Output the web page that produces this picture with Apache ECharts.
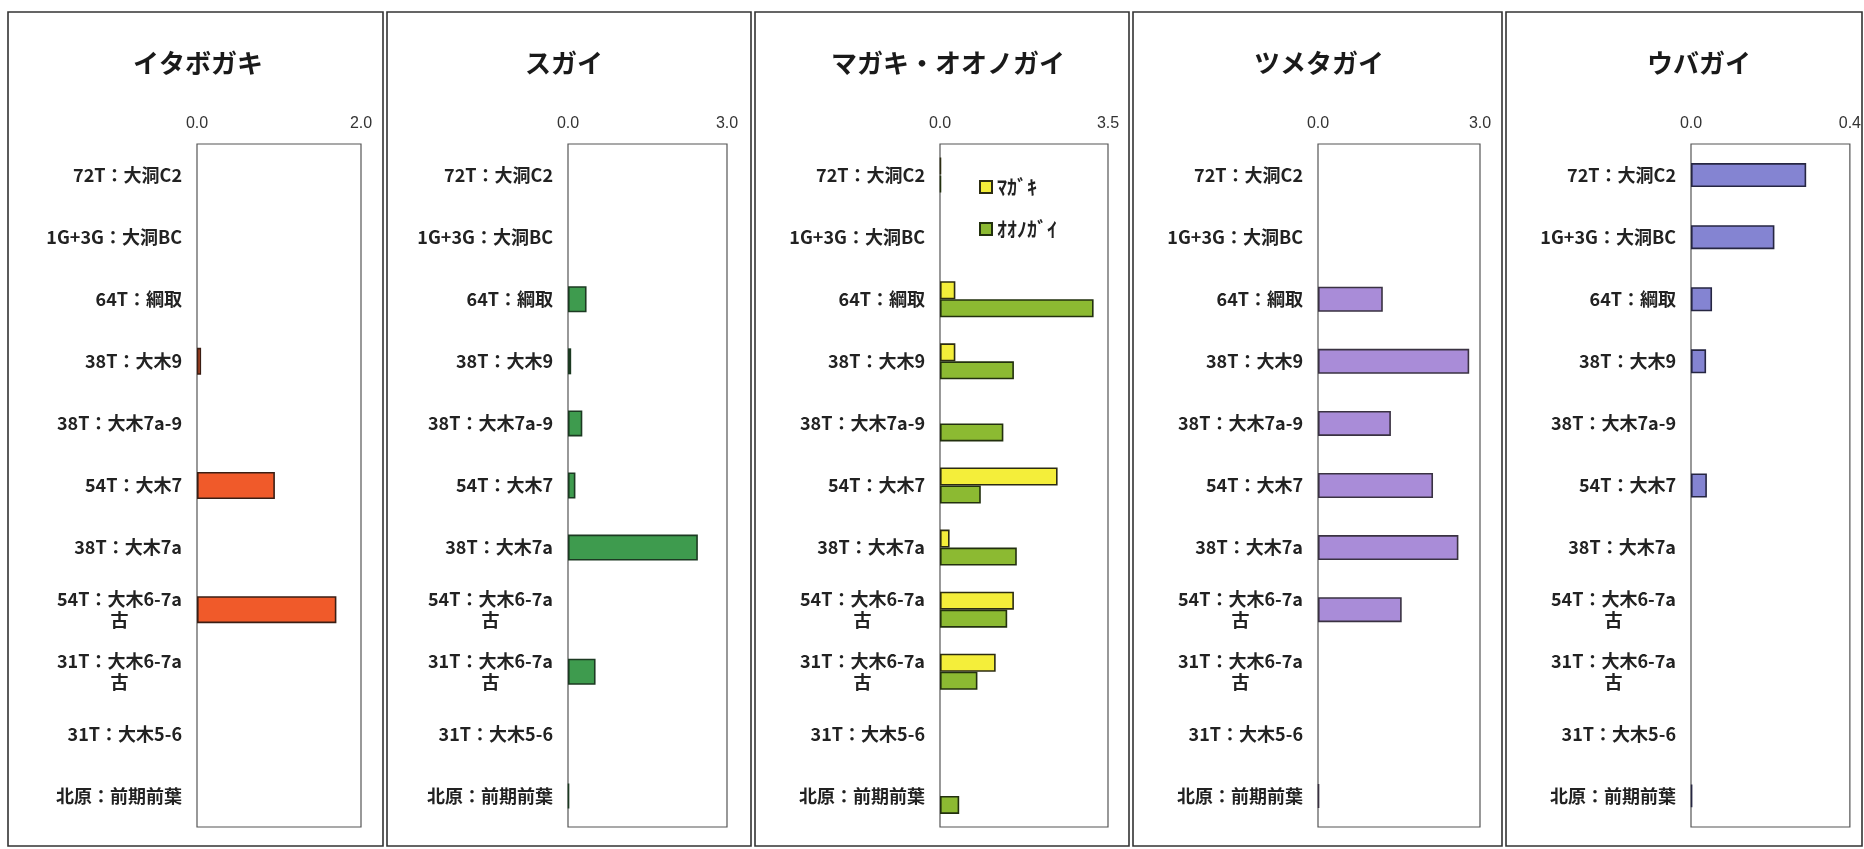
<!DOCTYPE html>
<html>
<head>
<meta charset="utf-8">
<script src="https://cdn.jsdelivr.net/npm/echarts@6/dist/echarts.min.js"></script>
<style>
  html, body { margin: 0; padding: 0; background: #ffffff; }
  #chart { width: 1864px; height: 849px; }
</style>
</head>
<body>
<div id="chart"></div>
<script>
// Sites / layers (top to bottom)
const categories = [
  '72T：大洞C2',
  '1G+3G：大洞BC',
  '64T：綱取',
  '38T：大木9',
  '38T：大木7a-9',
  '54T：大木7',
  '38T：大木7a',
  '54T：大木6-7a\n古',
  '31T：大木6-7a\n古',
  '31T：大木5-6',
  '北原：前期前葉'
];

// Shell species values per layer (null = not present)
const itabogakiValues = [null, null, null, 0.05, null, 0.95, null, 1.70, null, null, null];
const sugaiValues     = [null, null, 0.35, 0.06, 0.27, 0.14, 2.45, null, 0.52, null, 0.02];
const magakiValues    = [0.02, null, 0.32, 0.32, null, 2.45, 0.20, 1.54, 1.16, null, null];
const oonogaiValues   = [0.02, null, 3.20, 1.54, 1.32, 0.85, 1.60, 1.40, 0.78, null, 0.40];
const tsumetaValues   = [null, null, 1.20, 2.80, 1.35, 2.13, 2.60, 1.55, null, null, 0.02];
const ubagaiValues    = [0.29, 0.21, 0.053, 0.038, null, 0.04, null, null, null, null, 0.003];

// Panel titles, axis maxima and series names
const panelTitles = ['イタボガキ', 'スガイ', 'マガキ・オオノガイ', 'ツメタガイ', 'ウバガイ'];
const axisMax = [2.0, 3.0, 3.5, 3.0, 0.4];
const magakiName = 'ﾏｶﾞｷ';
const oonogaiName = 'ｵｵﾉｶﾞｲ';

// Layout and styling of each panel
const panels = [
  { frame: [8, 383],   gridLeft: 197,  gridWidth: 164, titleX: 193,
    series: [{ data: itabogakiValues, color: '#F05A2A', border: '#3a1e14', barWidth: 27 }] },
  { frame: [387, 751], gridLeft: 568,  gridWidth: 159, titleX: 559,
    series: [{ data: sugaiValues, color: '#3E9B4E', border: '#1c3a22', barWidth: 26 }] },
  { frame: [755, 1129], gridLeft: 940, gridWidth: 168, titleX: 943,
    series: [
      { name: magakiName, data: magakiValues, color: '#F4EE3A', border: '#2c2c12', barWidth: 18 },
      { name: oonogaiName, data: oonogaiValues, color: '#8CBA32', border: '#22300e', barWidth: 18 }
    ] },
  { frame: [1133, 1502], gridLeft: 1318, gridWidth: 162, titleX: 1314,
    series: [{ data: tsumetaValues, color: '#A98CD8', border: '#3a3242', barWidth: 25 }] },
  { frame: [1506, 1862], gridLeft: 1691, gridWidth: 165, titleX: 1694,
    series: [{ data: ubagaiValues, color: '#8484D2', border: '#262642', barWidth: 24 }] }
];

const GRID_TOP = 144;
const GRID_HEIGHT = 683;
const JP_FONT = "'Noto Sans CJK JP', 'Noto Sans', sans-serif";

const labelRich = {
  a: { align: 'right', fontSize: 18, fontWeight: 'bold', fontFamily: JP_FONT, color: '#222', lineHeight: 21 },
  c: { align: 'center', fontSize: 18, fontWeight: 'bold', fontFamily: JP_FONT, color: '#222', lineHeight: 21 }
};

function categoryFormatter(value) {
  const lines = value.split('\n');
  if (lines.length === 1) return '{a|' + value + '}';
  return '{a|' + lines[0] + '}\n{c|' + lines[1] + '}';
}

const option = {
  backgroundColor: '#ffffff',
  animation: false,
  title: [],
  grid: [],
  xAxis: [],
  yAxis: [],
  series: [],
  legend: {
    data: [magakiName, oonogaiName],
    orient: 'vertical',
    left: 974,
    top: 171,
    itemWidth: 12,
    itemHeight: 12,
    itemGap: 20,
    icon: 'rect',
    textStyle: { fontSize: 20, fontWeight: 'bold', fontFamily: JP_FONT, color: '#222', lineHeight: 22 }
  },
  graphic: []
};

panels.forEach((p, i) => {
  // Panel frame
  option.graphic.push({
    type: 'rect',
    shape: { x: p.frame[0], y: 12, width: p.frame[1] - p.frame[0], height: 834 },
    style: { fill: 'none', stroke: '#333', lineWidth: 1.6 },
    silent: true,
    z: 0
  });

  option.title.push({
    text: panelTitles[i],
    left: p.titleX,
    top: 45,
    textAlign: 'center',
    textStyle: { fontSize: 26, fontWeight: 'bold', fontFamily: JP_FONT, color: '#1a1a1a' }
  });

  option.grid.push({
    left: p.gridLeft,
    top: GRID_TOP,
    width: p.gridWidth,
    height: GRID_HEIGHT,
    show: true,
    borderColor: '#555',
    borderWidth: 1.2,
    backgroundColor: '#ffffff',
    containLabel: false
  });

  option.xAxis.push({
    type: 'value',
    gridIndex: i,
    position: 'top',
    min: 0,
    max: axisMax[i],
    interval: axisMax[i],
    axisLine: { show: false },
    axisTick: { show: false },
    splitLine: { show: false },
    axisLabel: {
      margin: 12,
      fontSize: 16,
      fontFamily: "'Liberation Sans', Arial, sans-serif",
      color: '#333',
      formatter: v => v.toFixed(1)
    }
  });

  option.yAxis.push({
    type: 'category',
    gridIndex: i,
    data: categories,
    inverse: true,
    axisLine: { show: false },
    axisTick: { show: false },
    splitLine: { show: false },
    axisLabel: {
      margin: 15,
      interval: 0,
      formatter: categoryFormatter,
      rich: labelRich,
      fontSize: 18,
      fontWeight: 'bold',
      fontFamily: JP_FONT,
      color: '#222',
      lineHeight: 21
    }
  });

  p.series.forEach(s => {
    option.series.push({
      type: 'bar',
      name: s.name,
      xAxisIndex: i,
      yAxisIndex: i,
      data: s.data,
      barWidth: s.barWidth,
      barGap: '0%',
      itemStyle: { color: s.color, borderColor: s.border, borderWidth: 1.6 },
      silent: true
    });
  });
});

const chart = echarts.init(document.getElementById('chart'), null, { renderer: 'canvas' });
chart.setOption(option);
</script>
</body>
</html>
